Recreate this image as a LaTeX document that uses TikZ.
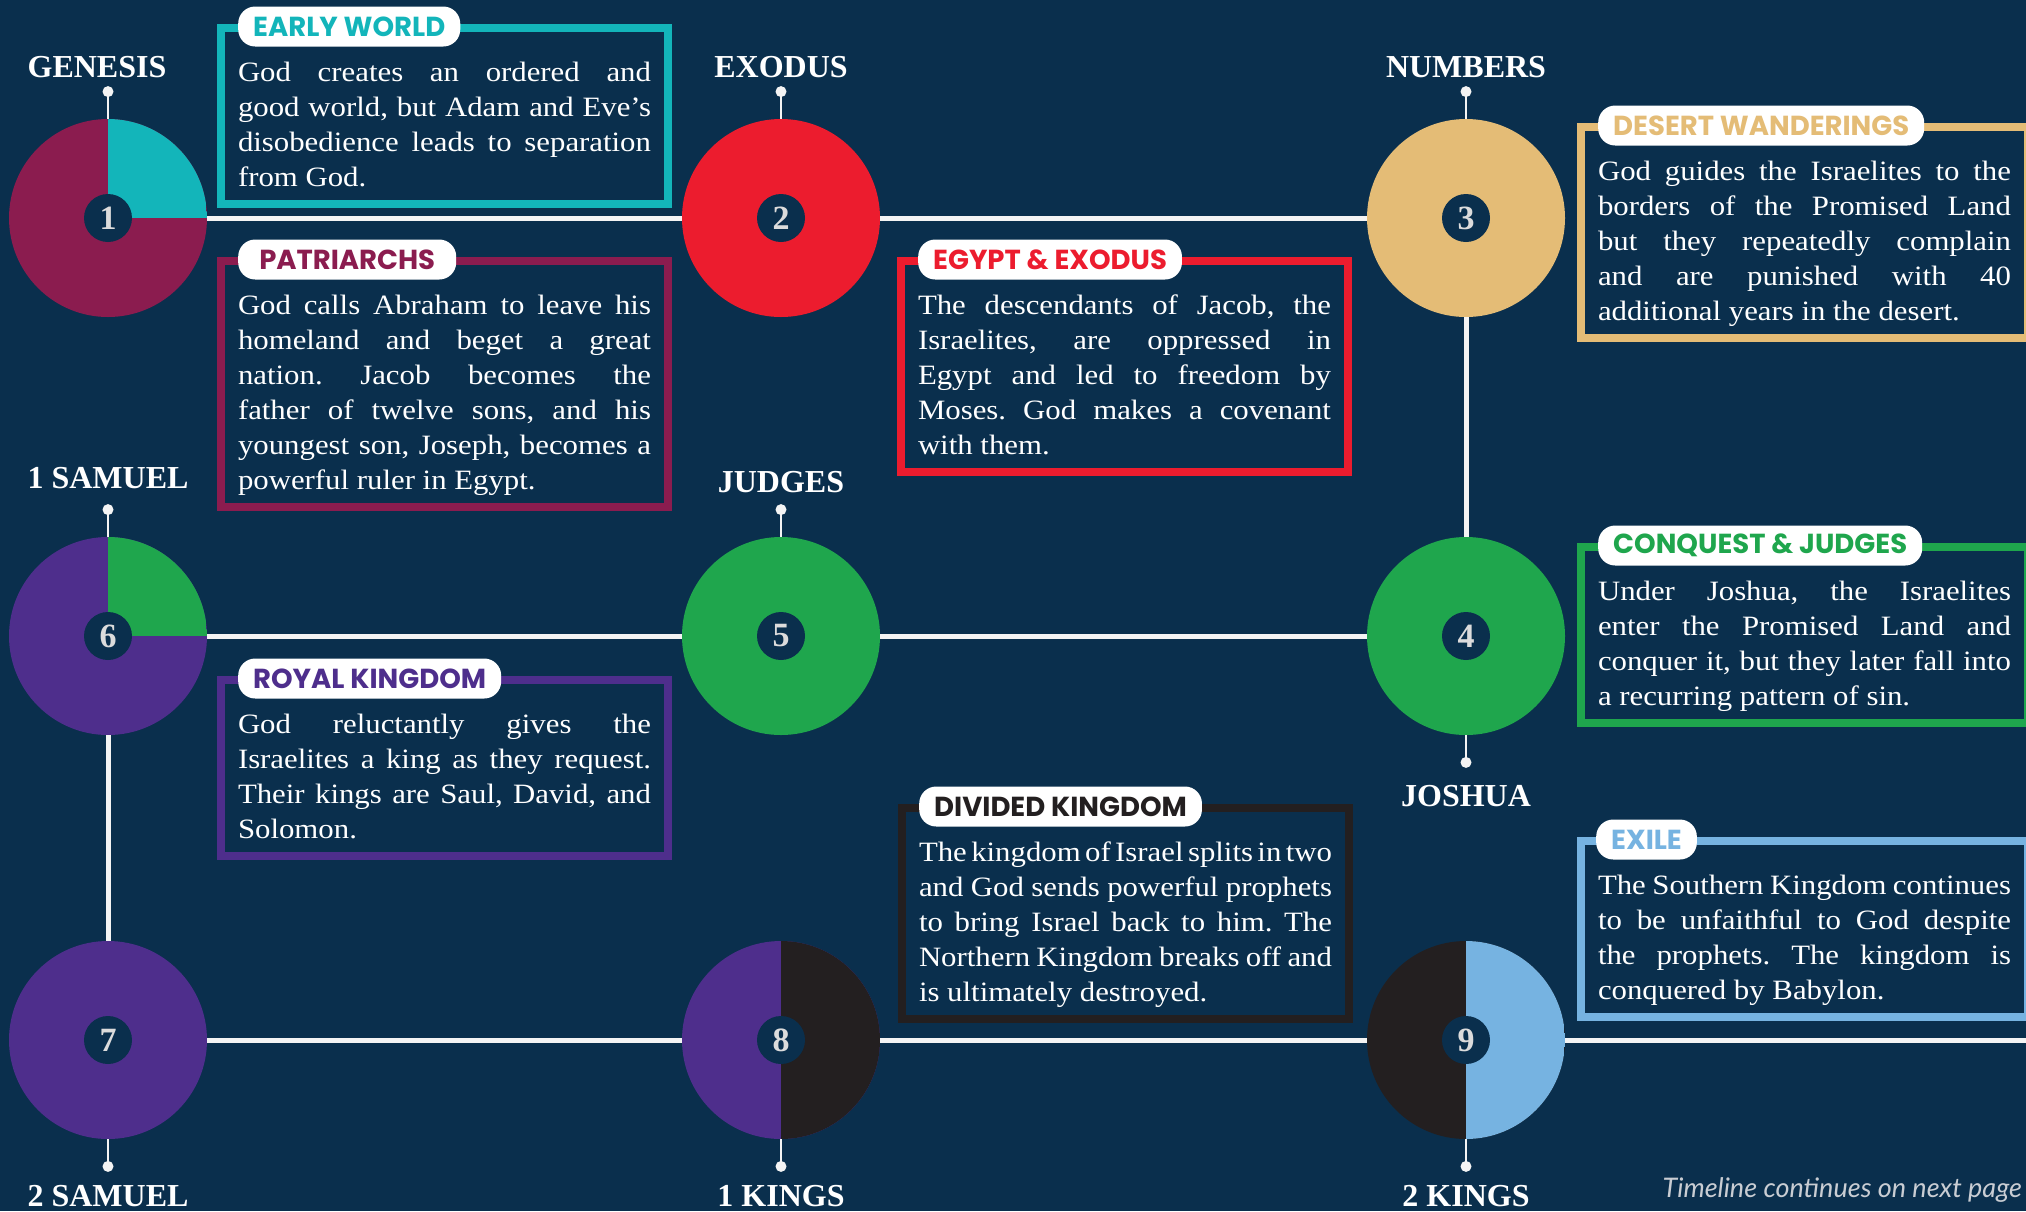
\documentclass[tikz,border=0pt]{standalone}
\usepackage{fontspec}
\setmainfont{Liberation Serif}
\newfontfamily\bodyfont{Liberation Serif}[FakeStretch=1.1]
\newfontfamily\tagfont{Poppins}
\newfontfamily\notefont{Lato}
\usetikzlibrary{positioning}

\definecolor{navy}{HTML}{0A2F4D}
\definecolor{rail}{HTML}{F4F4F4}
\definecolor{numgrey}{HTML}{DCDCDC}
\definecolor{notegrey}{HTML}{C9CDD3}
\definecolor{cteal}{HTML}{13B5BA}
\definecolor{cmaroon}{HTML}{8B1C4F}
\definecolor{cred}{HTML}{EC1C2E}
\definecolor{ctan}{HTML}{E4BC76}
\definecolor{cgreen}{HTML}{1FA64D}
\definecolor{cpurple}{HTML}{4E2E8C}
\definecolor{cblack}{HTML}{231F20}
\definecolor{csky}{HTML}{76B3E1}

% body text of a story box, and room above its first baseline
\newcommand{\storyfont}{\bodyfont\fontsize{28}{35}\selectfont\frenchspacing
  \tolerance=10000\relax\hyphenpenalty=10000\relax
  \spaceskip=7.7pt plus 14pt minus 3.7pt\relax}
\newcommand{\firstline}{\leavevmode\vrule height 45.5pt depth 0pt width 0pt\relax}

\begin{document}
\begin{tikzpicture}[x=1pt,y=-1pt,
    disc/.style={circle,minimum size=198pt,inner sep=0pt,fill=#1},
    quarter/.style={path picture={\fill[#1] (path picture bounding box.center) rectangle (path picture bounding box.north east);}},
    righthalf/.style={path picture={\fill[#1] (path picture bounding box.south) rectangle (path picture bounding box.north east);}},
    badge/.style={circle,minimum size=48pt,inner sep=0pt,fill=navy,text=numgrey,font=\fontsize{34}{34}\selectfont\bfseries},
    track/.style={draw=rail,line width=5pt},
    stub/.style={draw=rail,line width=2.5pt},
    dot/.style={circle,fill=rail,minimum size=11pt,inner sep=0pt},
    book/.style={inner sep=0pt,text=white,font=\fontsize{32}{32}\selectfont\bfseries},
    frame/.style={draw=#1,line width=8pt,anchor=north west,text width=413pt,align=justify,
      inner xsep=17pt,inner ysep=7.5pt,text=white,font=\storyfont},
    tag/.style={fill=white,rounded corners=17pt,minimum height=40pt,inner xsep=15pt,inner ysep=0pt,
      anchor=west,text=#1,font=\tagfont\bfseries\fontsize{27.5}{27.5}\selectfont},
    note/.style={inner sep=0pt,text=notegrey,font=\notefont\itshape\fontsize{27}{27}\selectfont}
  ]
  \useasboundingbox (0,0) rectangle (2026,1211);
  \clip (0,0) rectangle (2026,1211);
  \fill[navy] (0,0) rectangle (2026,1211);

  % timeline discs
  \node[disc=cmaroon,quarter=cteal] (c1) at (108,218) {};
  \node[disc=cred] (c2) at (781,218) {};
  \node[disc=ctan] (c3) at (1466,218) {};
  \node[disc=cgreen] (c4) at (1466,636) {};
  \node[disc=cgreen] (c5) at (781,636) {};
  \node[disc=cpurple,quarter=cgreen] (c6) at (108,636) {};
  \node[disc=cpurple] (c7) at (108,1040) {};
  \node[disc=cpurple,righthalf=cblack] (c8) at (781,1040) {};
  \node[disc=cblack,righthalf=csky] (c9) at (1466,1040) {};
  \coordinate (railend) at (2026,1040);

  \foreach \a/\b in {c1/c2,c2/c3,c3/c4,c4/c5,c5/c6,c6/c7,c7/c8,c8/c9,c9/railend}
    \draw[track] (\a) -- (\b);

  \foreach \i in {1,...,9}
    \node[badge] (n\i) at (c\i) {\i};

  % pins and book names
  \node[dot,above=21.5pt of c1] (d1) {};
  \node[dot,above=21.5pt of c2] (d2) {};
  \node[dot,above=21.5pt of c3] (d3) {};
  \node[dot,above=21.5pt of c6] (d6) {};
  \node[dot,above=21.5pt of c5] (d5) {};
  \node[dot,below=21.5pt of c4] (d4) {};
  \node[dot,below=21.5pt of c7] (d7) {};
  \node[dot,below=21.5pt of c8] (d8) {};
  \node[dot,below=21.5pt of c9] (d9) {};
  \foreach \i in {1,...,9}
    \draw[stub] (c\i) -- (d\i);

  \node[book,above=8pt of d1,xshift=-11pt] (genesis) {GENESIS};
  \node[book,above=8pt of d2] (exodus) {EXODUS};
  \node[book,above=8pt of d3] (numbers) {NUMBERS};
  \node[book,above=15pt of d6] (samuel1) {1 SAMUEL};
  \node[book,above=11pt of d5] (judges) {JUDGES};
  \node[book,below=17pt of d4] (joshua) {JOSHUA};
  \node[book,below=13pt of d7] (samuel2) {2 SAMUEL};
  \node[book,below=13pt of d8] (kings1) {1 KINGS};
  \node[book,below=13pt of d9] (kings2) {2 KINGS};

  % story boxes
  \node[frame=cteal] (early) at (217,24) {\firstline God creates an ordered and\linebreak
    good world, but Adam and Eve’s\linebreak disobedience leads to separation\linebreak
    from God.\strut};
  \node[tag=cteal] (earlytag) at ([shift={(21,2.5)}]early.north west) {EARLY WORLD};

  \node[frame=cmaroon] (patri) at (217,257) {\firstline God calls Abraham to leave his\linebreak
    homeland and beget a great\linebreak nation. Jacob becomes the\linebreak
    father of twelve sons, and his\linebreak youngest son, Joseph, becomes a\linebreak
    powerful ruler in Egypt.\strut};
  \node[tag=cmaroon,minimum width=218pt] (patritag) at ([shift={(21,2.5)}]patri.north west) {PATRIARCHS};

  \node[frame=cred] (egypt) at (897,257) {\firstline The descendants of Jacob, the\linebreak
    Israelites, are oppressed in\linebreak Egypt and led to freedom by\linebreak
    Moses. God makes a covenant\linebreak with them.\strut};
  \node[tag=cred] (egypttag) at ([shift={(21,2.5)}]egypt.north west) {EGYPT \& EXODUS};

  \node[frame=ctan] (desert) at (1577,123) {\firstline God guides the Israelites to the\linebreak
    borders of the Promised Land\linebreak but they repeatedly complain\linebreak
    and are punished with 40\linebreak additional years in the desert.\strut};
  \node[tag=ctan] (deserttag) at ([shift={(21,2.5)}]desert.north west) {DESERT WANDERINGS};

  \node[frame=cgreen] (conquest) at (1577,543) {\firstline Under Joshua, the Israelites\linebreak
    enter the Promised Land and\linebreak conquer it, but they later fall into\linebreak
    a recurring pattern of sin.\strut};
  \node[tag=cgreen] (conquesttag) at ([shift={(21,2.5)}]conquest.north west) {CONQUEST \& JUDGES};

  \node[frame=cpurple] (royal) at (217,676) {\firstline God reluctantly gives the\linebreak
    Israelites a king as they request.\linebreak Their kings are Saul, David, and\linebreak
    Solomon.\strut};
  \node[tag=cpurple] (royaltag) at ([shift={(21,2.5)}]royal.north west) {ROYAL KINGDOM};

  \node[frame=cblack] (divided) at (898,804) {\firstline The kingdom of Israel splits in two\linebreak
    and God sends powerful prophets\linebreak to bring Israel back to him. The\linebreak
    Northern Kingdom breaks off and\linebreak is ultimately destroyed.\strut};
  \node[tag=cblack] (dividedtag) at ([shift={(21,2.5)}]divided.north west) {DIVIDED KINGDOM};

  \node[frame=csky] (exile) at (1577,837) {\firstline The Southern Kingdom continues\linebreak
    to be unfaithful to God despite\linebreak the prophets. The kingdom is\linebreak
    conquered by Babylon.\strut};
  \node[tag=csky] (exiletag) at ([shift={(19,2.5)}]exile.north west) {EXILE};

  \node[note,anchor=base east] (more) at (2022,1197) {Timeline continues on next page};
\end{tikzpicture}
\end{document}
